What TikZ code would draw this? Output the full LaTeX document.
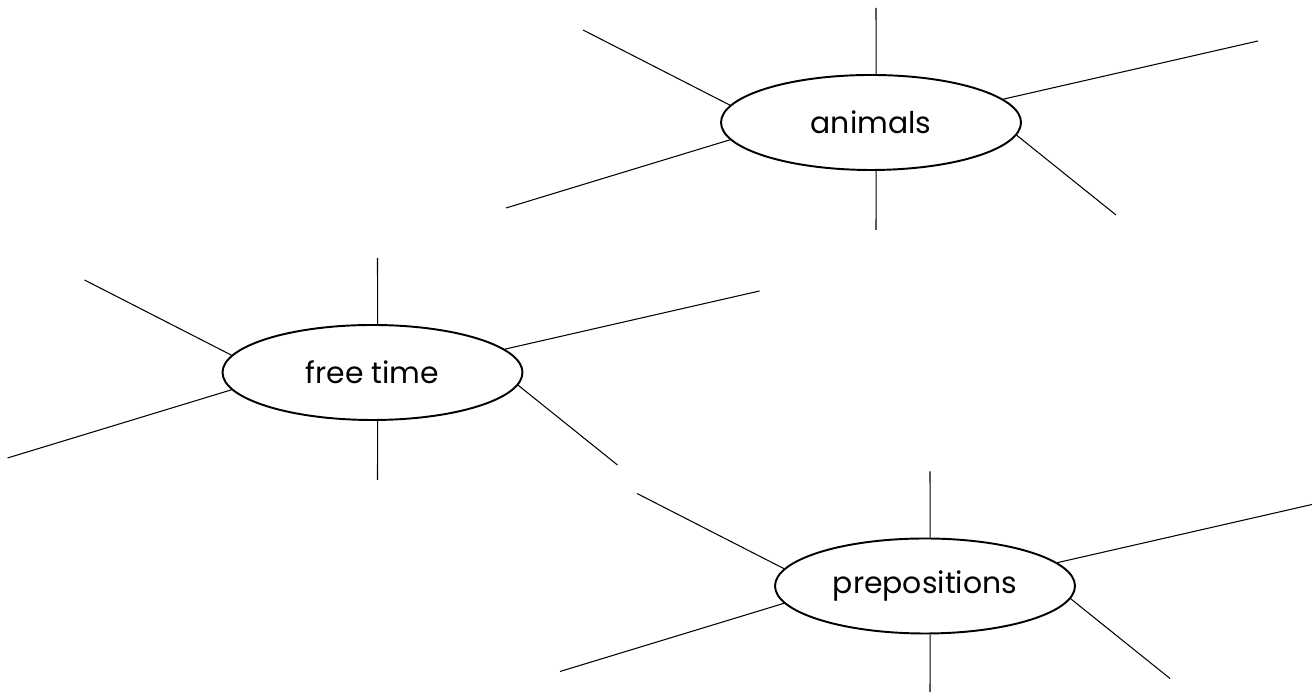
\documentclass[tikz,border=0pt]{standalone}
\usepackage{fontspec}
\setmainfont{Poppins}
\usetikzlibrary{shapes.geometric}

\begin{document}
\begin{tikzpicture}[line width=0.6pt]
	\useasboundingbox (0,0) rectangle (26.24,13.84);
	
	% Topics with their spokes
	\foreach \name/\x/\y/\txt in {animals/17.42/11.39/animals, freetime/7.45/6.39/free time, prepositions/18.5/2.12/prepositions}{
		\node (\name) at (\x,\y) [draw,ellipse,line width=1.1pt,minimum width=6cm,minimum height=1.9cm,font=\fontsize{17}{20}\selectfont] {\txt};
		
		\foreach \a/\dx/\dy in {84/0.1/2.29, 276/0.1/-2.15, 173/-5.76/1.85, 187/-7.3/-1.71, 10/7.74/1.63, 355/4.9/-1.85}{
			\coordinate (\name end \a) at (\x+\dx,\y+\dy);
			\draw (\name.\a) to (\name end \a);
		}
	}
	
\end{tikzpicture}
\end{document}
